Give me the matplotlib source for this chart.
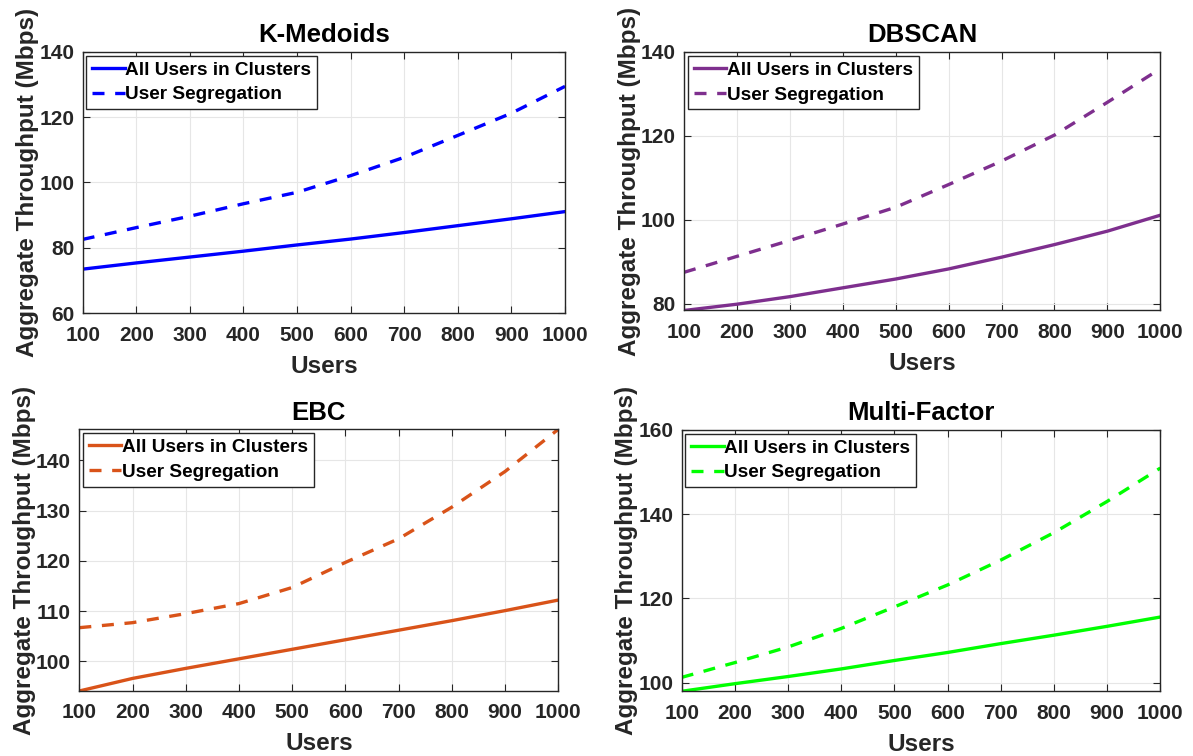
import numpy as np
import matplotlib as mpl
import matplotlib.pyplot as plt

# данные
users = [100, 200, 300, 400, 500, 600, 700, 800, 900, 1000]

kmed_all = [73.5, 75.4, 77.2, 79.0, 80.9, 82.7, 84.7, 86.8, 88.9, 91.1]
kmed_seg = [82.6, 86.2, 89.7, 93.5, 97.0, 102.1, 107.7, 114.4, 121.2, 129.4]

dbscan_all = [78.4, 79.9, 81.7, 83.8, 85.9, 88.3, 91.1, 94.1, 97.3, 101.1]
dbscan_seg = [87.5, 91.3, 95.1, 99.0, 103.0, 108.4, 114.0, 120.2, 128.0, 136.0]

ebc_all = [94.1, 96.6, 98.6, 100.5, 102.4, 104.3, 106.2, 108.1, 110.1, 112.2]
ebc_seg = [106.7, 107.7, 109.5, 111.5, 114.7, 119.7, 124.4, 130.7, 137.8, 146.2]

mf_all = [98.0, 99.8, 101.5, 103.3, 105.3, 107.2, 109.3, 111.3, 113.4, 115.6]
mf_seg = [101.3, 104.8, 108.5, 112.9, 118.0, 123.2, 129.1, 135.6, 143.0, 150.9]

titles = ['K-Medoids', 'DBSCAN', 'EBC', 'Multi-Factor']
series = [(kmed_all, kmed_seg), (dbscan_all, dbscan_seg),
          (ebc_all, ebc_seg), (mf_all, mf_seg)]
colors = ['#0000FF', '#7E2F8E', '#D95319', '#00FF00']
yticks = [np.arange(60, 141, 20), np.arange(80, 141, 20),
          np.arange(100, 141, 10), np.arange(100, 161, 20)]
ylims = [(60, 140), (min(dbscan_all), 140),
         (min(ebc_all), max(ebc_seg)), (min(mf_all), 160)]
positions = [[0.0693, 0.5856, 0.4043, 0.346],
             [0.5734, 0.5893, 0.3992, 0.342],
             [0.0665, 0.0860, 0.4015, 0.3462],
             [0.5714, 0.0856, 0.4012, 0.346]]

mpl.rcParams['font.family'] = ['Liberation Sans', 'DejaVu Sans']
mpl.rcParams['font.weight'] = 'bold'
dark = '#262626'

fig = plt.figure(figsize=(11.93, 7.56), dpi=100)

for i in range(4):
    ax = fig.add_axes(positions[i])
    all_vals, seg_vals = series[i]
    ax.plot(users, all_vals, color=colors[i], lw=2.4,
            label='All Users in Clusters')
    ax.plot(users, seg_vals, color=colors[i], lw=2.4, dashes=(3.6, 3.2),
            label='User Segregation')
    ax.set_xlim(100, 1000)
    ax.set_ylim(*ylims[i])
    ax.set_xticks(users)
    ax.set_yticks(yticks[i])
    ax.grid(True, color='#e6e6e6', lw=0.8)
    ax.tick_params(direction='in', top=True, right=True, length=5,
                   colors=dark, labelsize=15)
    ax.tick_params(axis='x', pad=9)
    ax.tick_params(axis='y', pad=6)
    for lab in ax.get_xticklabels() + ax.get_yticklabels():
        lab.set_fontweight('bold')
    for sp in ax.spines.values():
        sp.set_color(dark)
        sp.set_linewidth(1.0)
    ax.set_title(titles[i], fontsize=18.5, fontweight='bold', pad=7)
    ax.set_xlabel('Users', fontsize=17.5, fontweight='bold', color=dark,
                  labelpad=7)
    ax.set_ylabel('Aggregate Throughput (Mbps)', fontsize=17.5,
                  fontweight='bold', color=dark, labelpad=0)
    leg = ax.legend(loc='upper left', fontsize=13.7, fancybox=False,
                    framealpha=1, edgecolor=dark, handlelength=1.7,
                    handletextpad=0.05, borderpad=0.3, labelspacing=0.4,
                    borderaxespad=0.2)
    leg.get_frame().set_linewidth(1.0)
    for t in leg.get_texts():
        t.set_fontweight('bold')

plt.savefig('out.png', dpi=100)
